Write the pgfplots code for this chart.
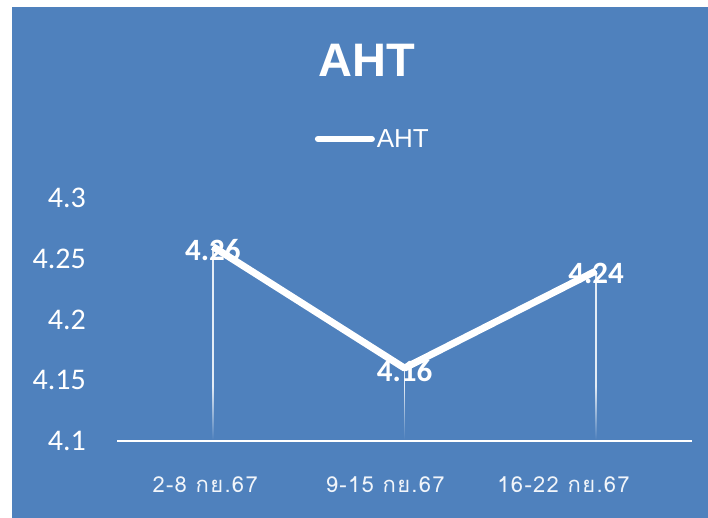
\documentclass[border=0pt]{standalone}
\usepackage{pgfplots}
\pgfplotsset{compat=1.18}
\usepackage{fontspec}
\setmainfont{Carlito}
\newfontfamily\arialfont{Liberation Sans}
\newfontfamily\thaifont[Script=Thai, LetterSpace=6]{Loma}
\usetikzlibrary{fadings}
\definecolor{bgblue}{RGB}{79,129,189}

\begin{document}
\begin{tikzpicture}
% background
\fill[white] (0,0) rectangle (708pt,518pt);
\fill[bgblue] (12pt,0) rectangle (708pt,511pt);
\node[text=white, font=\arialfont\bfseries\fontsize{47}{50}\selectfont, inner sep=0pt] at (367pt,458pt) {AHT};
\begin{axis}[
    at={(117pt,77pt)}, anchor=south west,
    scale only axis, width=575pt, height=243pt,
    xmin=-0.5, xmax=2.5, ymin=4.1, ymax=4.3,
    axis x line*=bottom, axis y line*=left,
    x axis line style={white, line width=2pt},
    y axis line style={draw=none},
    major tick length=0pt, tick style={draw=none},
    ytick={4.1,4.15,4.2,4.25,4.3},
    yticklabels={4.1,4.15,4.2,4.25,4.3},
    yticklabel style={text=white, font=\fontsize{30}{32}\selectfont, inner sep=0pt, anchor=east, xshift=-31pt},
    xtick={-0.04,0.9,1.83},
    xticklabels={2-8 กย.67, 9-15 กย.67, 16-22 กย.67},
    xticklabel style={text=white!92!bgblue, font=\thaifont\fontsize{22}{26}\selectfont, inner sep=0pt, anchor=center, yshift=-44pt},
    clip=false,
    legend style={at={(0.445,1.243)}, anchor=center, draw=none, fill=none,
        text=white, font=\arialfont\fontsize{26}{28}\selectfont},
]
% drop lines
\addplot[ycomb, white, line width=1.5pt, opacity=0.85, forget plot]
    coordinates {(0,4.26) (1,4.16) (2,4.24)};
\fill[bgblue, path fading=north] (axis cs:-0.5,4.101) rectangle (axis cs:2.5,4.145);
% main series
\addplot[white, line width=7pt, line join=round,
    legend image code/.code={\draw[white, line width=6pt, line cap=round] (0pt,0pt) -- (54pt,0pt);},
    nodes near coords, point meta=explicit symbolic,
    every node near coord/.append style={font=\bfseries\fontsize{31}{32}\selectfont, text=white, anchor=center, yshift=-3pt}]
    coordinates {(0,4.26) [4.26] (1,4.16) [4.16] (2,4.24) [4.24]};
\addlegendentry{AHT}
\end{axis}
\end{tikzpicture}
\end{document}
